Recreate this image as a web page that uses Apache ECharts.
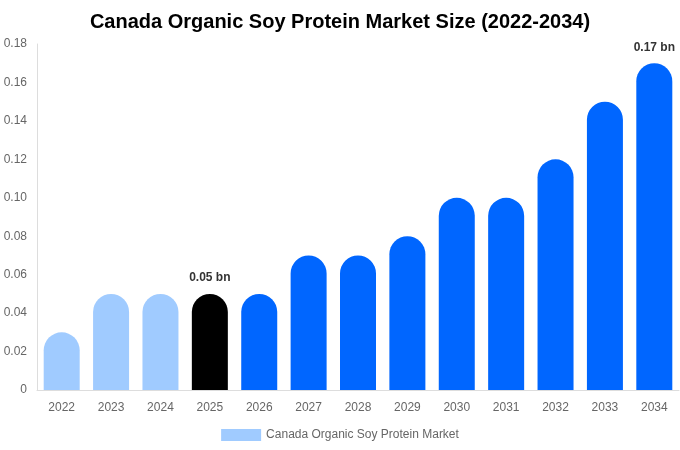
<!DOCTYPE html>
<html><head><meta charset="utf-8">
<script src="https://cdn.jsdelivr.net/npm/echarts@6/dist/echarts.min.js"></script>
<style>html,body{margin:0;padding:0;background:#fff}#c{width:680px;height:450px}</style>
</head><body><div id="c"></div>
<script>
var categories = ['2022','2023','2024','2025','2026','2027','2028','2029','2030','2031','2032','2033','2034'];
var values = [0.03,0.05,0.05,0.05,0.05,0.07,0.07,0.08,0.10,0.10,0.12,0.15,0.17];
var labelled = ['2025','2034'];
var seriesName = 'Canada Organic Soy Protein Market';
var colorPast = '#a0cbff', colorCurrent = '#000000', colorFuture = '#0066ff';

var data = values.map(function(v,i){
  var yr = +categories[i];
  var c = yr < 2025 ? colorPast : (yr === 2025 ? colorCurrent : colorFuture);
  var d = {value:v, itemStyle:{color:c}};
  if (labelled.indexOf(categories[i]) >= 0) {
    d.label = {show:true, position:'top', distance:10, formatter:function(p){return p.value.toFixed(2)+' bn';},
      fontWeight:'bold', fontSize:12, color:'#333', fontFamily:'Liberation Sans, Arial, sans-serif'};
  }
  return d;
});

var chart = echarts.init(document.getElementById('c'));
chart.setOption({
  animation:false,
  textStyle:{fontFamily:'Liberation Sans, Arial, sans-serif'},
  title:{text:'Canada Organic Soy Protein Market Size (2022-2034)', left:'center', top:7,
    textStyle:{fontSize:20, fontWeight:'bold', color:'#000', fontFamily:'Liberation Sans, Arial, sans-serif'}},
  legend:{bottom:4, itemWidth:40, itemHeight:12, icon:'rect', data:[{name:seriesName, itemStyle:{color:colorPast}}],
    textStyle:{color:'#666', fontSize:12}},
  grid:{left:37, right:1, top:44, bottom:60, containLabel:false},
  xAxis:{type:'category', data:categories, axisTick:{show:false},
    axisLine:{lineStyle:{color:'#ddd'}}, axisLabel:{color:'#666', fontSize:12, margin:12}},
  yAxis:{type:'value', min:0, max:0.18, interval:0.02, splitLine:{show:false},
    axisLine:{show:true, lineStyle:{color:'#ddd'}}, axisTick:{show:false},
    axisLabel:{color:'#666', fontSize:12, margin:10, formatter:function(v){return v===0?'0':v.toFixed(2);}}},
  series:[{name:seriesName, type:'bar', data:data, barWidth:36, itemStyle:{borderRadius:[18,18,0,0]}}]
});
</script></body></html>
